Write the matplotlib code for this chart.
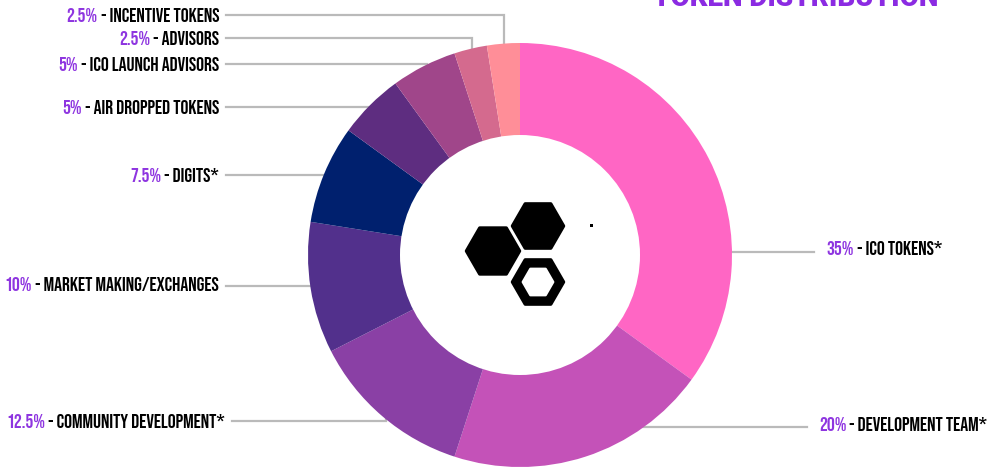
import matplotlib.pyplot as plt
import numpy as np
from matplotlib.patches import Circle, RegularPolygon, Rectangle

# token distribution, clockwise from 12 o'clock
categories = [
    'ICO TOKENS*',
    'DEVELOPMENT TEAM*',
    'COMMUNITY DEVELOPMENT*',
    'MARKET MAKING/EXCHANGES',
    'DIGITS*',
    'AIR DROPPED TOKENS',
    'ICO LAUNCH ADVISORS',
    'ADVISORS',
    'INCENTIVE TOKENS',
]
shares = [35, 20, 12.5, 10, 7.5, 5, 5, 2.5, 2.5]
colors = ['#ff66c4', '#c452b8', '#8a40a5', '#52308c', '#00206e',
          '#5e2d80', '#a0468a', '#d46a8e', '#ff8e98']

# label layout in pixels, y measured from the top of the image
label_side = ['right', 'right', 'left', 'left', 'left', 'left', 'left', 'left', 'left']
label_x = [826, 819, 225, 219, 219, 219, 219, 219, 219]
label_y = [248, 424, 421, 284, 175, 107, 64, 38, 15]
line_y = [252, 427, 421, 286, 175, 107, 64, 38, 15]

W, H = 994, 469
CX, CY, R_OUT, R_IN = 520, 255, 212, 120
PURPLE = '#8e35e0'
LINE_GREY = '#bababa'
FONT = dict(family=['Bebas Neue', 'Fira Sans Extra Condensed', 'DejaVu Sans'],
            fontweight='bold', fontsize=14.2)

fig = plt.figure(figsize=(W / 100, H / 100), dpi=100)
ax = fig.add_axes([0, 0, 1, 1])

# y axis is inverted (pixel coords), so counterclock + startangle=-90 draws clockwise from the top
wedges, _ = ax.pie(shares, colors=colors, startangle=-90, counterclock=True,
                   center=(CX, CY), radius=R_OUT,
                   wedgeprops=dict(linewidth=0, zorder=2))
ax.add_patch(Circle((CX, CY), R_IN, facecolor='white', edgecolor='none', zorder=3))

ax.set_xlim(0, W)
ax.set_ylim(H, 0)
ax.set_aspect('equal')
ax.axis('off')

for wedge, name, share, side, lx, ly, liney in zip(
        wedges, categories, shares, label_side, label_x, label_y, line_y):
    pct = f'{share:g}%'
    if side == 'left':
        mid = np.deg2rad((wedge.theta1 + wedge.theta2) / 2)
        px = CX + 0.97 * R_OUT * np.cos(mid)
        py = CY + 0.97 * R_OUT * np.sin(mid)
        ax.plot([lx + 7, px, px], [liney, liney, py], color=LINE_GREY, lw=1.6,
                solid_joinstyle='miter', zorder=1)
        t = ax.text(lx, ly, ' - ' + name, ha='right', va='center', color='black', **FONT)
        ax.annotate(pct, xy=(0, 0), xycoords=t, ha='right', va='bottom', color=PURPLE, **FONT)
    else:
        ax.plot([CX, lx - 12], [liney, liney], color=LINE_GREY, lw=1.6, zorder=1)
        t = ax.text(lx, ly, pct, ha='left', va='center', color=PURPLE, **FONT)
        ax.annotate(' - ' + name, xy=(1, 0), xycoords=t, ha='left', va='bottom', color='black', **FONT)

# title, mostly cropped off the top edge
ax.text(796, 5.5, 'TOKEN DISTRIBUTION', ha='center', va='baseline', color='#8b2be2',
        fontsize=20, fontweight='black', family=['Roboto', 'DejaVu Sans'])

# hexagon logo in the middle
hex_kw = dict(numVertices=6, orientation=np.pi / 6, linewidth=2.5, joinstyle='round', zorder=4)
ax.add_patch(RegularPolygon((493, 251), radius=26.5, facecolor='black', edgecolor='black', **hex_kw))
ax.add_patch(RegularPolygon((538, 226), radius=25.5, facecolor='black', edgecolor='black', **hex_kw))
ax.add_patch(RegularPolygon((538, 282), radius=25.5, facecolor='black', edgecolor='black', **hex_kw))
ax.add_patch(RegularPolygon((538, 282), radius=15, facecolor='white', edgecolor='white',
                            numVertices=6, orientation=np.pi / 6, linewidth=2, joinstyle='round', zorder=5))
ax.add_patch(Rectangle((589.5, 224.5), 3, 3, facecolor='black', edgecolor='none', zorder=4))

fig.savefig('out.png', dpi=100)
